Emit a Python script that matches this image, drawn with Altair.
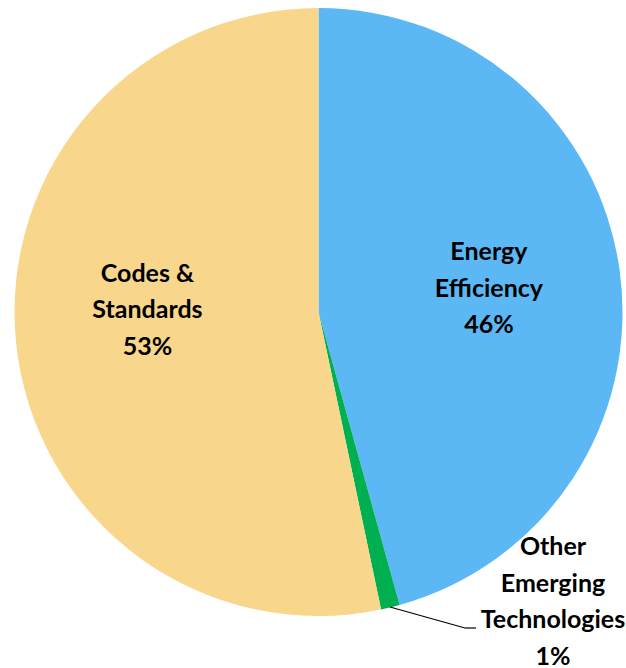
import altair as alt
import pandas as pd

categories = ["Energy Efficiency", "Other Emerging Technologies", "Codes & Standards"]
labels = ["Energy\nEfficiency", "Other\nEmerging\nTechnologies", "Codes &\nStandards"]
values = [45.7, 1.0, 53.3]
pct_labels = ["46%", "1%", "53%"]
colors = ["#5BB8F5", "#00B050", "#F8D78C"]

df = pd.DataFrame({
    "category": categories,
    "value": values,
    "order": list(range(len(categories))),
    "label": [f"{l}\n{p}" for l, p in zip(labels, pct_labels)],
})

CX, CY, R = 318.5, 312, 304
FONT = "Lato"
FS = 25
LH = 36.5

base = alt.Chart(df).encode(
    theta=alt.Theta("value:Q", stack=True),
    order=alt.Order("order:Q"),
    x=alt.value(CX),
    y=alt.value(CY),
)

arcs = base.mark_arc(radius=R).encode(
    color=alt.Color("category:N", scale=alt.Scale(domain=categories, range=colors), legend=None)
)

total = sum(values)
lab = alt.Chart(df).transform_window(
    cum="sum(value)", sort=[alt.SortField("order")], frame=[None, 0]
).transform_calculate(mid="datum.cum - datum.value / 2")

theta_mid = alt.Theta("mid:Q", stack=None, scale=alt.Scale(domain=[0, total], range=[0, 6.283185307]))

inner_ee = lab.transform_filter(alt.datum.category == categories[0]).mark_text(
    radius=172, lineBreak="\n", font=FONT, fontWeight="bold", fontSize=FS,
    color="black", lineHeight=LH, align="center", baseline="middle", dy=-LH
).encode(theta=theta_mid, text="label:N", x=alt.value(CX), y=alt.value(CY))

inner_cs = lab.transform_filter(alt.datum.category == categories[2]).mark_text(
    radius=172, lineBreak="\n", font=FONT, fontWeight="bold", fontSize=FS,
    color="black", lineHeight=LH, align="center", baseline="middle", dy=-56
).encode(theta=theta_mid, text="label:N", x=alt.value(CX), y=alt.value(CY))

outer = alt.Chart(df).transform_filter(alt.datum.category == categories[1]).mark_text(
    lineBreak="\n", font=FONT, fontWeight="bold", fontSize=FS,
    color="black", lineHeight=LH, align="center", baseline="middle"
).encode(text="label:N", x=alt.value(553), y=alt.value(547))

leader1 = alt.Chart(df).transform_filter(alt.datum.category == categories[1]).mark_rule(
    color="black", strokeWidth=1.2
).encode(x=alt.value(390), y=alt.value(607), x2=alt.value(465), y2=alt.value(628))
leader2 = alt.Chart(df).transform_filter(alt.datum.category == categories[1]).mark_rule(
    color="black", strokeWidth=1.2
).encode(x=alt.value(465), y=alt.value(628), x2=alt.value(476), y2=alt.value(628))

chart = alt.layer(arcs, inner_ee, inner_cs, outer, leader1, leader2).properties(
    width=626, height=668, padding=0,
    autosize=alt.AutoSizeParams(type="none"),
).configure_view(stroke=None)

chart.save("out.html", embed_options={"renderer": "svg", "actions": False})
